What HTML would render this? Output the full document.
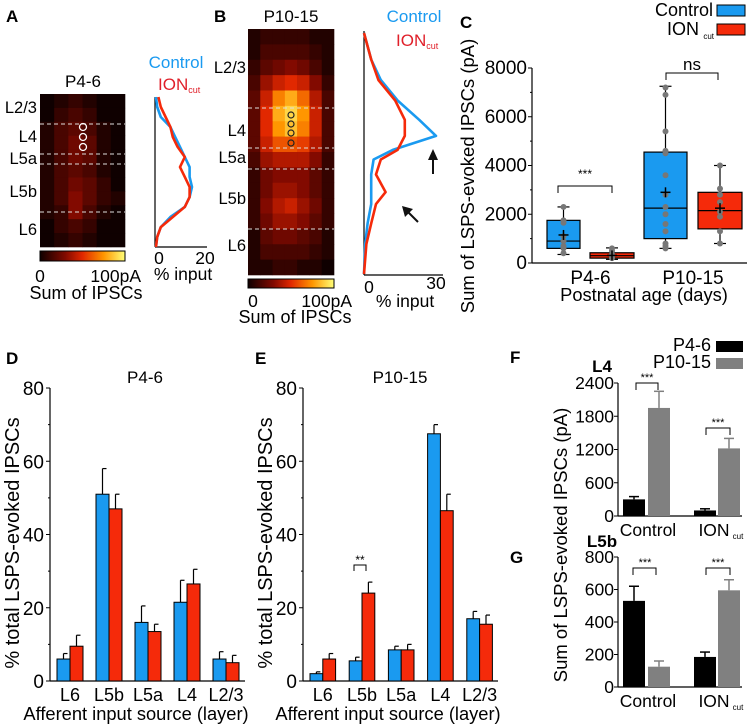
<!DOCTYPE html>
<html><head><meta charset="utf-8"><style>
html,body{margin:0;padding:0;background:#fff}
svg{display:block;font-family:"Liberation Sans",Arial,sans-serif}
</style></head><body>
<svg id="fig" width="748" height="728" viewBox="0 0 748 728" xmlns="http://www.w3.org/2000/svg">
<g id="static">
<text x="6" y="22" font-size="17" font-weight="bold">A</text>
<text x="214" y="22" font-size="17" font-weight="bold">B</text>
<text x="460" y="28" font-size="17" font-weight="bold">C</text>
<text x="6" y="364" font-size="17" font-weight="bold">D</text>
<text x="255" y="364" font-size="17" font-weight="bold">E</text>
<text x="510" y="363" font-size="17" font-weight="bold">F</text>
<text x="510" y="563" font-size="17" font-weight="bold">G</text>
<text x="83" y="87" font-size="17" text-anchor="middle">P4-6</text>
<text x="291" y="22" font-size="17" text-anchor="middle">P10-15</text>
<text x="176" y="68" font-size="17" fill="#1a9af0" text-anchor="middle">Control</text>
<text x="158" y="90" font-size="17" fill="#e0202a">ION<tspan font-size="9" dy="3">cut</tspan></text>
<text x="414" y="22" font-size="17" fill="#1a9af0" text-anchor="middle">Control</text>
<text x="396" y="46" font-size="17" fill="#e0202a">ION<tspan font-size="9" dy="3">cut</tspan></text>
</g>
</svg>
<script>
// ---------- data ----------
const layersA = ["L2/3","L4","L5a","L5b","L6"];
const heatA = [
[0,.05,.1,.05,0,0],[0,.1,.15,.1,0,0],[.05,.15,.2,.15,.05,0],[.05,.15,.25,.2,.05,0],
[.05,.15,.25,.2,.05,0],[.05,.15,.2,.15,.05,0],[.05,.15,.25,.2,.1,0],[.05,.15,.3,.2,.1,.05],
[.05,.1,.3,.15,.05,0],[0,.1,.15,.1,0,0],[0,.05,.1,.05,0,0]];
const heatB = [
[.05,.1,.1,.1,.1,.05,.05],[.05,.15,.15,.15,.15,.1,.05],[.1,.2,.25,.3,.25,.15,.05],
[.15,.35,.45,.5,.45,.3,.1],[.2,.45,.7,.8,.65,.4,.15],[.2,.5,.8,.9,.75,.45,.15],
[.2,.5,.75,.85,.7,.45,.15],[.2,.45,.6,.6,.55,.4,.15],[.15,.35,.4,.4,.4,.3,.1],
[.1,.25,.3,.3,.3,.2,.1],[.1,.25,.35,.35,.3,.2,.1],[.1,.3,.4,.45,.35,.25,.1],
[.1,.25,.35,.35,.3,.2,.1],[.05,.2,.25,.25,.2,.15,.05],[.05,.15,.15,.15,.15,.1,.05],
[.05,.05,.1,.1,.05,.05,0]];
const profADepth = [0,.067,.133,.2,.267,.333,.4,.467,.533,.6,.667,.733,.8,.867,.933,1];
const profARed   = [1,2,4,6,7,9,12,10,12,14,14,12,7,2,.5,0];
const profABlue  = [0,.5,2,6,8,10,12,14,14,15,14,12,6,2,.5,0];
const profBDepth = [0,.11,.195,.28,.36,.427,.485,.525,.587,.66,.71,.79,.875,1];
const profBBlue  = [0,3,7,14,23,30,12,4,3,3,3,1.5,.5,0];
const profBRed   = [0,3,6,13,17,17,14,7,5,9,5,3,1,0];

const cGroups = ["P4-6","P10-15"];
const cCtrlBox = [[350,600,900,1750,2300],[600,1000,2250,4550,7250]];
const cIonBox  = [[150,200,300,420,620],[800,1400,2150,2900,4000]];
const cCtrlMean = [1150,2900];
const cIonMean  = [310,2250];
const cCtrlDots = [[2300,1750,1650,1100,900,700,600,400],[7200,6900,5400,4600,4500,3600,2800,2300,2000,1600,1300,800,700,600]];
const cIonDots  = [[600,500,350,300,250,200],[4000,3050,2800,2500,2100,1900,1300,800]];
const cTicks = [0,2000,4000,6000,8000];

const barCats = ["L6","L5b","L5a","L4","L2/3"];
const dCtrl = [6,51,16,21.5,6];
const dCtrlErr = [1.5,7,4.5,6,2];
const dIon = [9.5,47,13.5,26.5,5];
const dIonErr = [3,4,2,4,2];
const eCtrl = [2,5.5,8.5,67.5,17];
const eCtrlErr = [.5,1,1,2.5,2];
const eIon = [6,24,8.5,46.5,15.5];
const eIonErr = [1.5,3,1.5,4.5,2.5];
const pctTicks = [0,20,40,60,80];

const fgCats = ["Control","ION"];
const fYoung = [300,100]; const fYoungErr = [50,30];
const fOld = [1950,1220]; const fOldErr = [300,180];
const fTicks = [0,600,1200,1800,2400];
const gYoung = [530,185]; const gYoungErr = [90,30];
const gOld = [125,595]; const gOldErr = [35,65];
const gTicks = [0,200,400,600,800];

// ---------- helpers ----------
const NS="http://www.w3.org/2000/svg";
const svg=document.getElementById('fig');
function mk(tag,attrs,parent){const e=document.createElementNS(NS,tag);for(const k in attrs)e.setAttribute(k,attrs[k]);(parent||svg).appendChild(e);return e;}
function txt(x,y,s,size,anchor,parent,extra){const e=mk('text',Object.assign({x:x,y:y,'font-size':size,'text-anchor':anchor||'start'},extra||{}),parent);e.textContent=s;return e;}
function cmap(t){t=Math.max(0,Math.min(1,t));
 const st=[[0,[15,0,0]],[.3,[130,10,0]],[.5,[225,40,0]],[.75,[255,150,0]],[1,[255,255,120]]];
 for(let i=1;i<st.length;i++){if(t<=st[i][0]){const a=st[i-1],b=st[i],f=(t-a[0])/(b[0]-a[0]);
 return 'rgb('+a[1].map((v,j)=>Math.round(v+(b[1][j]-v)*f)).join(',')+')';}}return 'rgb(255,255,120)';}

function heatmap(data,x0,y0,w,h,name){
 const g=mk('g',{});
 mk('rect',{x:x0,y:y0,width:w,height:h,fill:'#0f0000'},g);
 const R=data.length,C=data[0].length,cw=w/C,ch=h/R;
 data.forEach((row,r)=>row.forEach((v,c)=>{const e=mk('rect',{x:x0+c*cw,y:y0+r*ch,width:cw+.3,height:ch+.3,fill:cmap(v)},g);
 }));
 return g;}
function colorbar(x0,y0,w,h,name){
 const id='cb'+name;const d=mk('defs',{});const lg=mk('linearGradient',{id:id},d);
 [0,.3,.5,.75,1].forEach(o=>mk('stop',{offset:o,'stop-color':cmap(o)},lg));
 const r=mk('rect',{x:x0,y:y0,width:w,height:h,fill:'url(#'+id+')',stroke:'#000','stroke-width':1});
 }
function dashes(ys,x0,x1){ys.forEach(y=>{const l=mk('line',{x1:x0,x2:x1,y1:y,y2:y,stroke:'#ddd','stroke-width':1,'stroke-dasharray':'4,3'});
 });}
function profile(depth,vals,ax,y0,y1,pxPerUnit,color,name){
 const pts=depth.map((d,i)=>(ax+vals[i]*pxPerUnit).toFixed(1)+','+(y0+d*(y1-y0)).toFixed(1)).join(' ');
 const p=mk('polyline',{points:pts,fill:'none',stroke:color,'stroke-width':2.6,'stroke-linejoin':'round'});
 }

// ---------- Panel A ----------
heatmap(heatA,40,94,85,153,'heatmap-a');
dashes([124,154,164,212],40,125);
[127,137,147].forEach(y=>{const c=mk('circle',{cx:83,cy:y,r:3.5,fill:'none',stroke:'#fff','stroke-width':1.3});});
[[107,0],[136,1],[158,2],[191,3],[229,4]].forEach(p=>{const t=txt(37,p[0]+6,layersA[p[1]],16.5,'end');});
colorbar(40,251,85,10,'colorbar-a');
txt(40,282,'0',17.5,'middle');txt(141,282,'100pA',17.5,'end');
txt(86,299,'Sum of IPSCs',18,'middle');
mk('line',{x1:155,x2:155,y1:97,y2:247,stroke:'#000','stroke-width':1.2});
mk('line',{x1:155,x2:207,y1:247,y2:247,stroke:'#000','stroke-width':1.2});
profile(profADepth,profABlue,156,97,247,2.4,'#1a9af0','profile-a-control');
profile(profADepth,profARed,156,97,247,2.4,'#f52a0a','profile-a-ioncut');
txt(159,264,'0',17.5,'middle');txt(205,264,'20',17.5,'middle');
txt(183,280,'% input',17.5,'middle');

// ---------- Panel B ----------
heatmap(heatB,248,29,86,246,'heatmap-b');
dashes([108,148,169,229],248,334);
[115,124,133,143].forEach(y=>{const c=mk('circle',{cx:291,cy:y,r:3,fill:'none',stroke:'#222','stroke-width':1.2});});
[[67,0],[130,1],[157,2],[198,3],[245,4]].forEach(p=>{const t=txt(246,p[0]+6,layersA[p[1]],16.5,'end');});
colorbar(248,279,86,9,'colorbar-b');
txt(253,307,'0',17.5,'middle');txt(352,307,'100pA',17.5,'end');
txt(295,323,'Sum of IPSCs',18,'middle');
mk('line',{x1:364,x2:364,y1:31,y2:275,stroke:'#000','stroke-width':1.2});
mk('line',{x1:364,x2:443,y1:275,y2:275,stroke:'#000','stroke-width':1.2});
profile(profBDepth,profBBlue,364,33,274,2.4,'#1a9af0','profile-b-control');
profile(profBDepth,profBRed,364,33,274,2.4,'#f52a0a','profile-b-ioncut');
txt(369,293,'0',17.5,'middle');txt(436,289,'30',17.5,'middle');
txt(405,307,'% input',17.5,'middle');
(function(){const a=mk('g',{});
 mk('line',{x1:433,y1:174,x2:433,y2:158,stroke:'#111','stroke-width':2},a);
 mk('polygon',{points:'428,160 438,160 433,149',fill:'#111'},a);
 const b=mk('g',{});
 mk('line',{x1:418,y1:222,x2:407,y2:211,stroke:'#111','stroke-width':2},b);
 mk('polygon',{points:'402,206 413,209 405,217',fill:'#111'},b);})();

// ---------- Panel C ----------
(function(){
 const ax=532,y0=263,y8=68,xEnd=747;
 const Y=v=>y0-(v/8000)*(y0-y8);
 mk('line',{x1:ax,x2:ax,y1:y8,y2:y0,stroke:'#000','stroke-width':1.2});
 mk('line',{x1:ax,x2:xEnd,y1:y0,y2:y0,stroke:'#000','stroke-width':1.2});
 cTicks.forEach(t=>{mk('line',{x1:ax-4,x2:ax,y1:Y(t),y2:Y(t),stroke:'#000'});const e=txt(ax-5,Y(t)+6,String(t),19,'end');});
 [1000,3000,5000,7000].forEach(t=>mk('line',{x1:ax-2,x2:ax,y1:Y(t),y2:Y(t),stroke:'#000'}));
 const lefts=[[547,590],[644,698]],bw=[[33,44],[43,44]];
 function box(st,mean,dots,x,w,fill,name){
  const g=mk('g',{});
  const cx=x+w/2;
  mk('line',{x1:cx,x2:cx,y1:Y(st[0]),y2:Y(st[4]),stroke:'#000','stroke-width':1.2},g);
  mk('line',{x1:cx-6,x2:cx+6,y1:Y(st[0]),y2:Y(st[0]),stroke:'#000','stroke-width':1.2},g);
  mk('line',{x1:cx-6,x2:cx+6,y1:Y(st[4]),y2:Y(st[4]),stroke:'#000','stroke-width':1.2},g);
  mk('rect',{x:x,y:Y(st[3]),width:w,height:Y(st[1])-Y(st[3]),fill:fill,stroke:'#000','stroke-width':1.2},g);
  mk('line',{x1:x,x2:x+w,y1:Y(st[2]),y2:Y(st[2]),stroke:'#000','stroke-width':1.2},g);
  dots.forEach(v=>{const d=mk('circle',{cx:cx,cy:Y(v),r:3,fill:'#777'},g);});
  mk('line',{x1:cx-5,x2:cx+5,y1:Y(mean),y2:Y(mean),stroke:'#000','stroke-width':1.5},g);
  mk('line',{x1:cx,x2:cx,y1:Y(mean)-5,y2:Y(mean)+5,stroke:'#000','stroke-width':1.5},g);
 }
 cGroups.forEach((gname,i)=>{
  box(cCtrlBox[i],cCtrlMean[i],cCtrlDots[i],lefts[i][0],bw[i][0],'#1a9af0','box-control-'+gname);
  box(cIonBox[i],cIonMean[i],cIonDots[i],lefts[i][1],bw[i][1],'#f52a0a','box-ioncut-'+gname);
  const e=txt((lefts[i][0]+lefts[i][1]+bw[i][1])/2,284,gname,19,'middle');
 });
 mk('path',{d:'M558,193 V186 H612 V193',fill:'none',stroke:'#000'});
 txt(585,178,'***',12,'middle');
 mk('path',{d:'M666,80 V73 H718 V80',fill:'none',stroke:'#000'});
 txt(692,70,'ns',17,'middle');
 txt(644,301,'Postnatal age (days)',18.3,'middle');
 const yl=txt(0,0,'Sum of LSPS-evoked IPSCs (pA)',18.5,'middle',null,{transform:'translate(474,176) rotate(-90)'});
 
 txt(713,16,'Control',18,'end');
 mk('rect',{x:717,y:5,width:28,height:11,fill:'#1a9af0',stroke:'#000'});
 txt(699,35,'ION',18,'end');txt(714,39,'cut',8,'end');
 mk('rect',{x:717,y:24,width:28,height:11,fill:'#f52a0a',stroke:'#000'});
})();

// ---------- Panels D/E ----------
function groupedBars(ax,xEnd,firstLeft,spacing,bw,ctrl,ctrlE,ion,ionE,name){
 const y0=681,y80=388;const Y=v=>y0-(v/80)*(y0-y80);
 mk('line',{x1:ax,x2:ax,y1:y80,y2:y0,stroke:'#000','stroke-width':1.2});
 mk('line',{x1:ax,x2:xEnd,y1:y0,y2:y0,stroke:'#000','stroke-width':1.2});
 pctTicks.forEach(t=>{mk('line',{x1:ax-4,x2:ax,y1:Y(t),y2:Y(t),stroke:'#000'});const e=txt(ax-6,Y(t)+7,String(t),19,'end');});
 [10,30,50,70].forEach(t=>mk('line',{x1:ax-2,x2:ax,y1:Y(t),y2:Y(t),stroke:'#000'}));
 barCats.forEach((c,i)=>{
  const x=firstLeft+i*spacing;
  [[ctrl,ctrlE,'#1a9af0',x,'control'],[ion,ionE,'#f52a0a',x+bw,'ioncut']].forEach(s=>{
   const v=s[0][i],er=s[1][i];
   const cx=s[3]+bw/2;
   mk('line',{x1:cx,x2:cx,y1:Y(v),y2:Y(v+er),stroke:'#000','stroke-width':1.2});
   mk('line',{x1:cx,x2:cx+4,y1:Y(v+er),y2:Y(v+er),stroke:'#000','stroke-width':1.2});
   const r=mk('rect',{x:s[3],y:Y(v),width:bw,height:y0-Y(v),fill:s[2],stroke:'#000','stroke-width':1});
   
  });
  const e=txt(x+bw,701,c,18,'middle');
 });
}
groupedBars(50,245,57,39,13,dCtrl,dCtrlErr,dIon,dIonErr,'d');
groupedBars(303,498,310,39.2,12.8,eCtrl,eCtrlErr,eIon,eIonErr,'e');
txt(145,383,'P4-6',17,'middle');txt(400,383,'P10-15',17,'middle');
txt(136,720,'Afferent input source (layer)',18.3,'middle');
txt(388,720,'Afferent input source (layer)',18.3,'middle');
txt(0,0,'% total LSPS-evoked IPSCs',20,'middle',null,{transform:'translate(19,543) rotate(-90)'});
txt(0,0,'% total LSPS-evoked IPSCs',20,'middle',null,{transform:'translate(272,543) rotate(-90)'});
mk('path',{d:'M354,571 V565 H366 V571',fill:'none',stroke:'#000'});
txt(360,564,'**',12,'middle');

// ---------- Panels F/G ----------
function pairBars(y0,yTop,maxV,ticks,young,youngE,old,oldE,name){
 const ax=618,xEnd=742;const Y=v=>y0-(v/maxV)*(y0-yTop);
 mk('line',{x1:ax,x2:ax,y1:yTop,y2:y0,stroke:'#000','stroke-width':1.2});
 mk('line',{x1:ax,x2:xEnd,y1:y0,y2:y0,stroke:'#000','stroke-width':1.2});
 ticks.forEach(t=>{mk('line',{x1:ax-4,x2:ax,y1:Y(t),y2:Y(t),stroke:'#000'});const e=txt(ax-4,Y(t)+6,String(t),17.5,'end');});
 const lefts=[[623,648],[694,718]];
 fgCats.forEach((c,i)=>{
  [[young,youngE,'#000',lefts[i][0],'p4-6'],[old,oldE,'#808080',lefts[i][1],'p10-15']].forEach(s=>{
   const v=s[0][i],er=s[1][i],w=22,cx=s[3]+w/2;
   mk('line',{x1:cx,x2:cx,y1:Y(v),y2:Y(v+er),stroke:s[2],'stroke-width':1.5});
   mk('line',{x1:cx-5,x2:cx+5,y1:Y(v+er),y2:Y(v+er),stroke:s[2],'stroke-width':1.5});
   const r=mk('rect',{x:s[3],y:Y(v),width:w,height:y0-Y(v),fill:s[2]});
   
  });
 });
 txt(648,y0+20,'Control',17.5,'middle');
 txt(714,y0+20,'ION',17.5,'middle');txt(738,y0+23,'cut',8,'middle');
 return Y;
}
pairBars(516,383,2400,fTicks,fYoung,fYoungErr,fOld,fOldErr,'f');
pairBars(687,557,800,gTicks,gYoung,gYoungErr,gOld,gOldErr,'g');
txt(602,372,'L4',17,'middle',null,{'font-weight':'bold'});
txt(602,547,'L5b',17,'middle',null,{'font-weight':'bold'});
txt(711,351,'P4-6',18,'end');mk('rect',{x:716,y:341,width:27,height:11,fill:'#000'});
txt(711,368,'P10-15',18,'end');mk('rect',{x:716,y:358,width:27,height:11,fill:'#808080'});
[['M636,390 V383 H658 V390',647,381],['M706,435 V428 H730 V435',718,426],['M633,575 V568 H656 V575',645,566],['M706,575 V568 H730 V575',718,566]].forEach(b=>{
 mk('path',{d:b[0],fill:'none',stroke:'#000'});txt(b[1],b[2],'***',11,'middle');});
txt(0,0,'Sum of LSPS-evoked IPSCs (pA)',18.5,'middle',null,{transform:'translate(567,545) rotate(-90)'});
</script>
</body></html>
